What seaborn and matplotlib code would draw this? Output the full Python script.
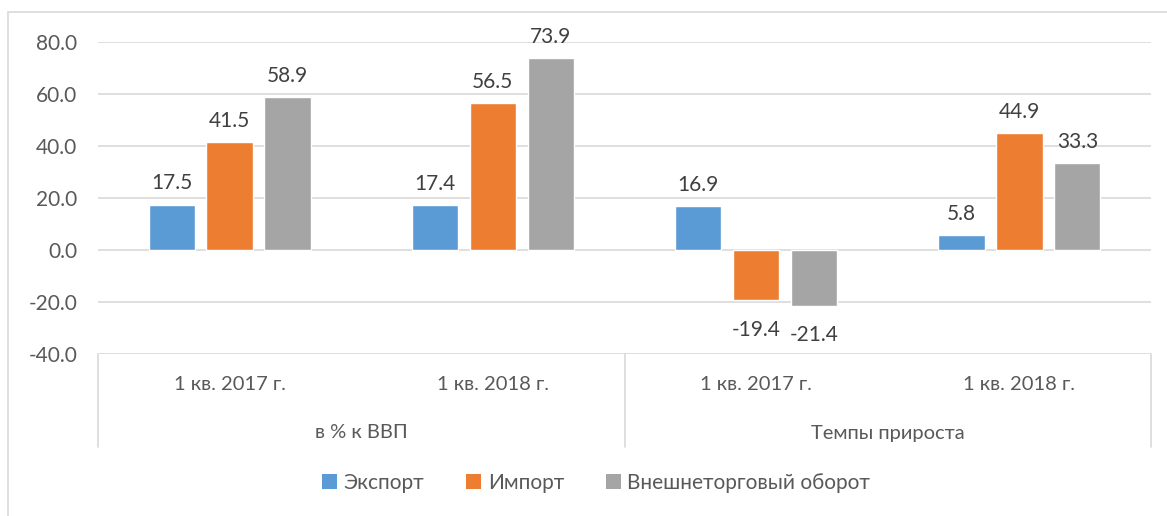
import matplotlib
matplotlib.use("Agg")
import pandas as pd
import matplotlib.pyplot as plt
import matplotlib.transforms as mtransforms
from matplotlib.patches import Patch, Rectangle
import seaborn as sns

# Chart data
groups = ["в % к ВВП", "Темпы прироста"]
periods = ["1 кв. 2017 г.", "1 кв. 2018 г.", "1 кв. 2017 г.", "1 кв. 2018 г."]
series = ["Экспорт", "Импорт", "Внешнеторговый оборот"]
export = [17.5, 17.4, 16.9, 5.8]
imports = [41.5, 56.5, -19.4, 44.9]
turnover = [58.9, 73.9, -21.4, 33.3]
colors = ["#5b9bd5", "#ed7d31", "#a5a5a5"]

# Long format, one slot per bar cluster (period names repeat across groups)
slots = [f"s{i}" for i in range(len(periods))]
rows = []
for name, vals in zip(series, [export, imports, turnover]):
    for slot, v in zip(slots, vals):
        rows.append({"slot": slot, "series": name, "value": v})
df = pd.DataFrame(rows)

sns.set_theme(style="white")
plt.rcParams["font.family"] = ["Lato", "DejaVu Sans"]
text_color = "#595959"
grid_color = "#d9d9d9"

W, H = 1167, 516
fig = plt.figure(figsize=(W / 100, H / 100), dpi=100)
ax = fig.add_axes([98 / W, 1 - 354 / H, (1151 - 98) / W, (354 - 42) / H])

sns.barplot(data=df, x="slot", y="value", hue="series", order=slots,
            hue_order=series, palette=colors, width=0.66, gap=0.2,
            saturation=1, errorbar=None, legend=False, ax=ax)

ax.set_xlim(-0.5, len(slots) - 0.5)
ax.set_ylim(-40, 80)
ax.set_yticks(range(-40, 81, 20))
ax.set_yticklabels([f"{t:.1f}" for t in range(-40, 81, 20)])
ax.tick_params(axis="y", length=0, pad=15, labelsize=15, labelcolor=text_color)
ax.set_xticks([])
ax.set_xlabel("")
ax.set_ylabel("")
for s in ax.spines.values():
    s.set_visible(False)
for t in range(-40, 81, 20):
    ax.axhline(t, color=grid_color, lw=1.2, zorder=0)

# Data labels
for p in ax.patches:
    h = p.get_height()
    if p.get_width() == 0:
        continue
    x = p.get_x() + p.get_width() / 2
    off = 8 if h >= 0 else -14
    ax.annotate(f"{h:.1f}", (x, h), xytext=(0, off), textcoords="offset points",
                ha="center", va="bottom" if h >= 0 else "top",
                fontsize=15, color="#404040")

# Multi-level category axis
trans = mtransforms.blended_transform_factory(ax.transData, ax.transAxes)
box_bottom = -(447 - 354) / (354 - 42)
for xv in [-0.5, 1.5, 3.5]:
    ax.plot([xv, xv], [0, box_bottom], transform=trans, color=grid_color,
            lw=1.2, clip_on=False)
for i, lab in enumerate(periods):
    ax.text(i, -(384 - 354) / (354 - 42), lab, transform=trans, ha="center",
            va="center", fontsize=14.5, color=text_color)
for j, g in enumerate(groups):
    ax.text(2 * j + 0.5, -(433 - 354) / (354 - 42), g, transform=trans,
            ha="center", va="center", fontsize=14.5, color=text_color)

# Chart area border
fig.patches.append(Rectangle((8 / W, -0.1), 1.2, 1.1 - 12 / H, transform=fig.transFigure,
                             fill=False, edgecolor=grid_color, lw=1.2))

# Legend
handles = [Patch(facecolor=c, edgecolor="none", label=n) for c, n in zip(colors, series)]
leg = fig.legend(handles=handles, loc="center", bbox_to_anchor=(596 / W, 1 - 483 / H),
                 ncol=3, frameon=False, fontsize=15, handlelength=0.75,
                 handleheight=0.75, handletextpad=0.3, columnspacing=2.0)
for t in leg.get_texts():
    t.set_color(text_color)

fig.savefig("out.png", dpi=100)
